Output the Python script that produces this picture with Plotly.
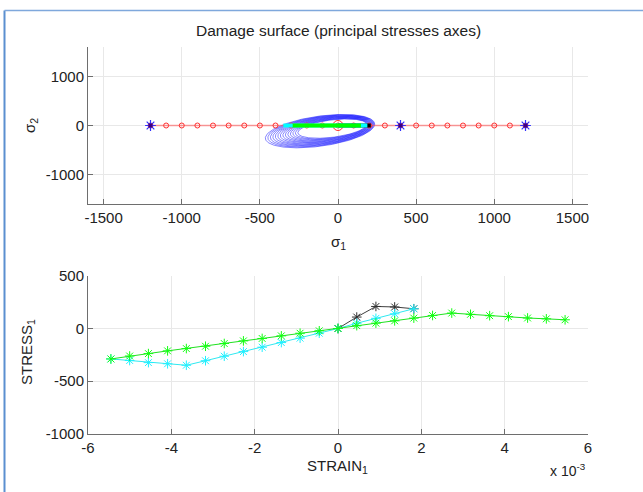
import numpy as np
import plotly.graph_objects as go

W, H = 643, 492

# ---------------- data ----------------
# load path along sigma_1 (sigma_2 = 0)
path_s1 = [-1200, -1100, -1000, -900, -800, -700, -600, -500, -400, -300, -200, -100, 0,
           100, 200, 300, 400, 500, 600, 700, 800, 900, 1000, 1100, 1200]
path_s2 = [0] * len(path_s1)
star_s1 = [-1200, 400, 1200]
star_s2 = [0, 0, 0]

# damage surface loops (center, half-widths, correlation)
loop_cx = [-115, -109, -103, -97, -91, -85, -79, -73, -67, -61, -55, -49, -43, -37]
loop_cy = [-115, -111, -107, -103, -99, -95, -91, -87, -83, -79, -75, -71, -67, -63]
loop_wx = [350, 340, 330, 320, 310, 300, 290, 280, 270, 260, 250, 240, 230, 220]
loop_wy = [340, 329, 318, 307, 296, 285, 274, 263, 252, 241, 230, 219, 208, 197]
loop_rho = [0.42] * 14

# stress-strain curves
green_strain = [-5.45, -5.00, -4.55, -4.09, -3.64, -3.18, -2.73, -2.27, -1.82, -1.36, -0.91, -0.45, 0.0,
                0.45, 0.91, 1.36, 1.82, 2.27, 2.73, 3.18, 3.64, 4.09, 4.55, 5.00, 5.45]
green_stress = [-290, -262, -239, -213, -191, -169, -143, -118, -95, -70, -45, -22, 0,
                27, 51, 73, 99, 124, 147, 135, 122, 113, 100, 92, 83]
cyan_strain = [-5.45, -5.00, -4.55, -4.09, -3.64, -3.18, -2.73, -2.27, -1.82, -1.36, -0.91, -0.45, 0.0,
               0.45, 0.91, 1.36, 1.82]
cyan_stress = [-290, -305, -325, -336, -350, -307, -264, -220, -178, -134, -92, -45, 0,
               50, 97, 140, 188]
black_strain = [0.0, 0.45, 0.91, 1.36, 1.82]
black_stress = [0, 109, 210, 205, 188]

x_ticks_top = [-1500, -1000, -500, 0, 500, 1000, 1500]
y_ticks_top = [-1000, 0, 1000]
x_ticks_bot = [-6, -4, -2, 0, 2, 4, 6]
y_ticks_bot = [-1000, -500, 0, 500]

# ---------------- figure ----------------
fig = go.Figure()
FONT = "Liberation Sans, Arial, sans-serif"

# damage loops
t = np.linspace(0, 2 * np.pi, 240)
for cx, cy, wx, wy, r in zip(loop_cx, loop_cy, loop_wx, loop_wy, loop_rho):
    xs = cx + wx * np.cos(t)
    ys = cy + wy * (r * np.cos(t) + np.sqrt(1 - r * r) * np.sin(t))
    fig.add_trace(go.Scatter(x=xs, y=ys, mode="lines", line=dict(color="rgba(25,25,255,0.75)", width=0.7),
                             xaxis="x", yaxis="y", hoverinfo="skip", showlegend=False))

# red path
fig.add_trace(go.Scatter(x=path_s1, y=path_s2, mode="lines+markers",
                         line=dict(color="rgba(255,90,90,0.6)", width=1.5),
                         marker=dict(symbol="circle-open", size=5, color="#ff3030", line=dict(width=1)),
                         xaxis="x", yaxis="y", showlegend=False))
fig.add_trace(go.Scatter(x=[0], y=[0], mode="markers",
                         marker=dict(symbol="circle-open", size=10, color="#ff3030", line=dict(width=1)),
                         xaxis="x", yaxis="y", showlegend=False))

# stress paths in principal plane
bs2 = [0] * len(black_stress)
cs2 = [0] * len(cyan_stress)
gs2 = [0] * len(green_stress)
fig.add_trace(go.Scatter(x=black_stress, y=bs2, mode="lines", line=dict(color="black", width=4),
                         xaxis="x", yaxis="y", showlegend=False))
fig.add_trace(go.Scatter(x=cyan_stress, y=cs2, mode="lines", line=dict(color="#00ffff", width=4),
                         xaxis="x", yaxis="y", showlegend=False))
fig.add_trace(go.Scatter(x=green_stress, y=gs2, mode="lines", line=dict(color="#00ff00", width=4),
                         xaxis="x", yaxis="y", showlegend=False))

# stars
fig.add_trace(go.Scatter(x=star_s1, y=star_s2, mode="markers",
                         marker=dict(symbol="asterisk-open", size=9, color="#3030ff", line=dict(width=1.2, color="#3030ff")),
                         xaxis="x", yaxis="y", showlegend=False))
fig.add_trace(go.Scatter(x=star_s1, y=star_s2, mode="markers",
                         marker=dict(symbol="square", size=4, color="#400080"),
                         xaxis="x", yaxis="y", showlegend=False))

# bottom plot
def strain(v):
    return [a * 1e-3 for a in v]

fig.add_trace(go.Scatter(x=strain(black_strain), y=black_stress, mode="lines+markers",
                         line=dict(color="#404040", width=1),
                         marker=dict(symbol="asterisk-open", size=8, color="#303030", line=dict(width=1, color="#303030")),
                         xaxis="x2", yaxis="y2", showlegend=False))
fig.add_trace(go.Scatter(x=strain(cyan_strain), y=cyan_stress, mode="lines+markers",
                         line=dict(color="#30e8f0", width=1),
                         marker=dict(symbol="asterisk-open", size=8, color="#20f0ff", line=dict(width=1, color="#20f0ff")),
                         xaxis="x2", yaxis="y2", showlegend=False))
fig.add_trace(go.Scatter(x=strain(green_strain), y=green_stress, mode="lines+markers",
                         line=dict(color="#20e020", width=1),
                         marker=dict(symbol="asterisk-open", size=8, color="#10ff10", line=dict(width=1, color="#10ff10")),
                         xaxis="x2", yaxis="y2", showlegend=False))

AX = dict(showgrid=True, gridcolor="#e8e8e8", gridwidth=1, zeroline=False,
          showline=True, linecolor="#6e6e6e", linewidth=1, mirror=False,
          ticks="inside", ticklen=5, tickcolor="#6e6e6e",
          tickfont=dict(family=FONT, size=15, color="#222"), automargin=False)

def labels(v):
    return [str(a) for a in v]

xd = [88 / W, 588 / W]
fig.update_layout(
    width=W, height=H, margin=dict(l=0, r=0, t=0, b=0),
    paper_bgcolor="white", plot_bgcolor="white",
    xaxis=dict(AX, domain=xd, range=[-1600, 1600], tickvals=x_ticks_top, ticktext=labels(x_ticks_top), anchor="y"),
    yaxis=dict(AX, domain=[1 - 204 / H, 1 - 47 / H], range=[-1600, 1600], tickvals=y_ticks_top,
               ticktext=labels(y_ticks_top), anchor="x"),
    xaxis2=dict(AX, domain=xd, range=[-6e-3, 6e-3], tickvals=strain(x_ticks_bot),
                ticktext=labels(x_ticks_bot), anchor="y2"),
    yaxis2=dict(AX, domain=[1 - 433.5 / H, 1 - 276 / H], range=[-1000, 500], tickvals=y_ticks_bot,
                ticktext=labels(y_ticks_bot), anchor="x2"),
    showlegend=False,
)

def ann(text, x, y, angle=0, size=15, xanchor="center"):
    fig.add_annotation(text=text, x=x / W, y=1 - y / H, xref="paper", yref="paper", showarrow=False,
                       textangle=angle, xanchor=xanchor, yanchor="middle",
                       font=dict(family=FONT, size=size, color="#222"))

ann("Damage surface (principal stresses axes)", 338, 30, size=15.5)
ann("σ<sub>1</sub>", 338, 242)
ann("σ<sub>2</sub>", 30, 126, angle=-90)
ann("STRAIN<sub>1</sub>", 337, 466)
ann("STRESS<sub>1</sub>", 27, 352, angle=-90)
ann("x 10<sup>-3</sup>", 568, 470, size=14)

# window border
fig.add_shape(type="line", xref="paper", yref="paper", x0=4.5 / W, x1=4.5 / W, y0=0, y1=1 - 10.5 / H,
              line=dict(color="#5b8fd0", width=2))
fig.add_shape(type="line", xref="paper", yref="paper", x0=4.5 / W, x1=1, y0=1 - 10.5 / H, y1=1 - 10.5 / H,
              line=dict(color="#7fa8dc", width=1.5))

fig.write_html("out.html", config={"displayModeBar": False},
               post_script="document.body.style.margin='0';document.body.style.overflow='hidden';")
